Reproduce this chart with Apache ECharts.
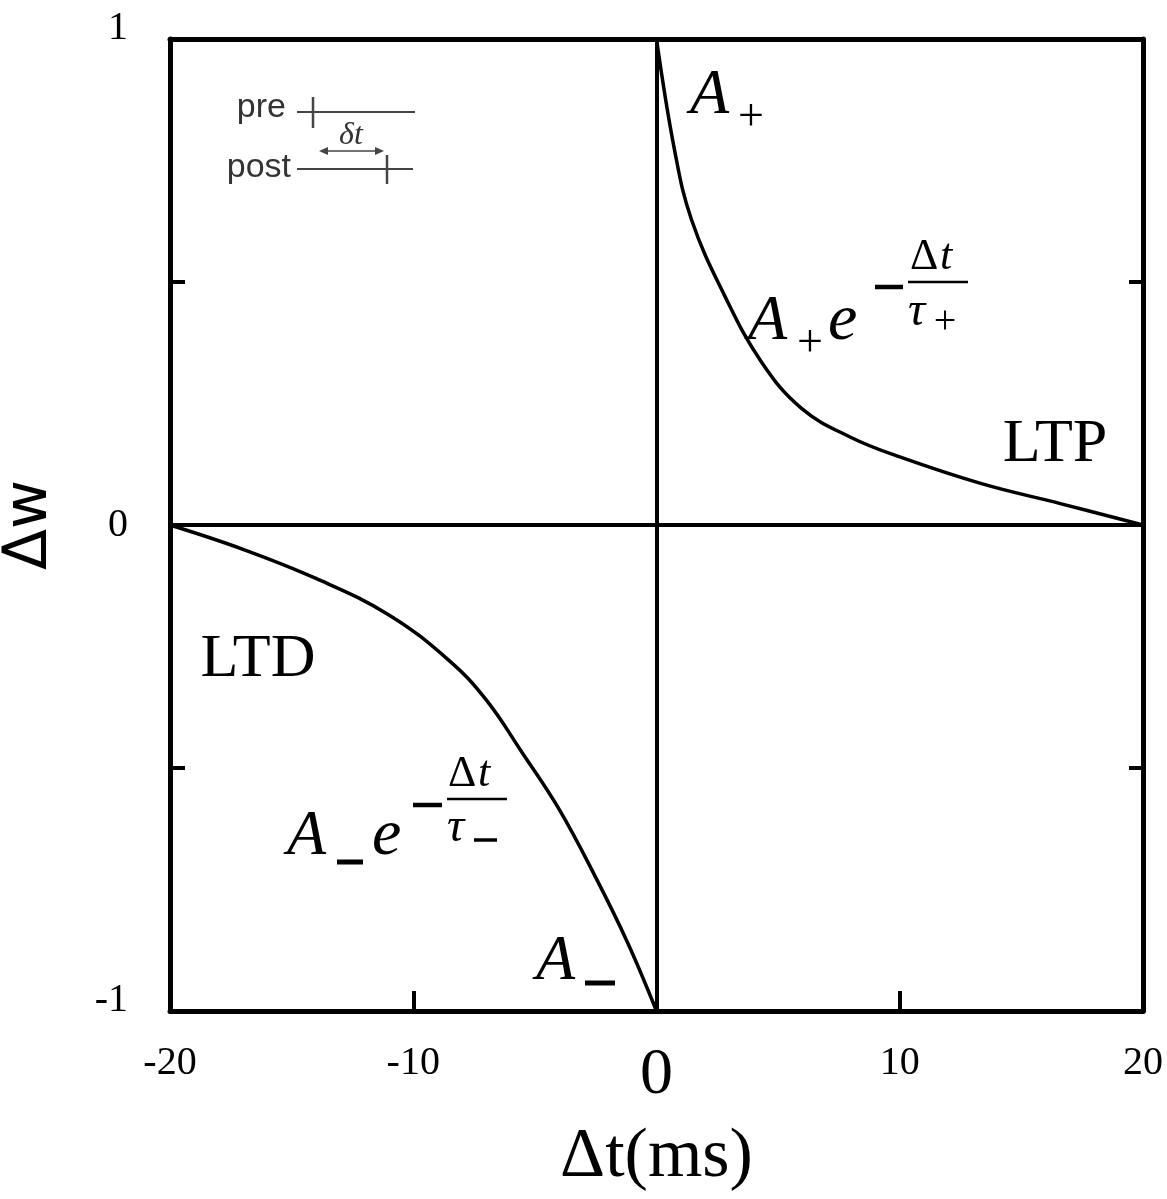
<!DOCTYPE html>
<html>
<head>
<meta charset="utf-8">
<script src="https://cdn.jsdelivr.net/npm/echarts@6/dist/echarts.min.js"></script>
<style>
  html, body { margin: 0; padding: 0; background: #fff; }
  #chart { width: 1167px; height: 1199px; }
</style>
</head>
<body>
<div id="chart"></div>
<script>
// LTP branch (dt > 0)
const ltpT = [0, 0.74, 1.44, 2.79, 4.32, 5.96, 8, 10, 13.36, 16.6, 20]
const ltpW = [1, 0.772, 0.628, 0.473, 0.335, 0.24, 0.18, 0.14, 0.085, 0.044, 0]
// LTD branch (dt < 0)
const ltdT = [-20, -17, -14, -11, -8.5, -7, -5.5, -4, -2.5, -1.2, 0]
const ltdW = [0, -0.05, -0.11, -0.185, -0.28, -0.36, -0.47, -0.585, -0.725, -0.858, -1]

const xTicks = [-20, -10, 0, 10, 20]
const yTicks = [-1, 0, 1]

const serif = '"Liberation Serif", "DejaVu Serif", serif'
const sans = '"DejaVu Sans", "Liberation Sans", sans-serif'

const chart = echarts.init(document.getElementById('chart'))

function txt(text, x, y, font, align, fill) {
  return {
    type: 'text', x: x, y: y, silent: true,
    style: { text: text, font: font, fill: fill || '#000', align: align || 'left', verticalAlign: 'middle' }
  }
}
function seg(x1, y1, x2, y2, w, color) {
  return {
    type: 'line', silent: true,
    shape: { x1: x1, y1: y1, x2: x2, y2: y2 },
    style: { stroke: color || '#000', lineWidth: w }
  }
}

const axisLineStyle = { color: '#000', width: 5 }

const option = {
  animation: false,
  backgroundColor: '#fff',
  grid: { left: 170, right: 24, top: 39, bottom: 188, outerBoundsMode: 'none', containLabel: false },
  xAxis: [
    {
      type: 'value', min: -20, max: 20, interval: 10, position: 'bottom',
      axisLine: { onZero: false, lineStyle: axisLineStyle },
      axisTick: { inside: true, length: 20, customValues: [-10, 10], lineStyle: { color: '#000', width: 4 } },
      axisLabel: {
        customValues: xTicks,
        margin: 32,
        color: '#000',
        fontFamily: serif,
        fontSize: 40,
        formatter: v => (v === 0 ? '{z|0}' : String(v)),
        rich: { z: { fontFamily: serif, fontSize: 66, color: '#000' } }
      },
      splitLine: { show: false },
      name: 'Δt(ms)',
      nameLocation: 'middle',
      nameGap: 112,
      nameTextStyle: { fontFamily: serif, fontSize: 70, color: '#000' }
    },
    {
      type: 'value', min: -20, max: 20, position: 'top',
      axisLine: { onZero: false, lineStyle: axisLineStyle },
      axisTick: { show: false }, axisLabel: { show: false }, splitLine: { show: false }
    }
  ],
  yAxis: [
    {
      type: 'value', min: -1, max: 1, interval: 0.5, position: 'left',
      axisLine: { onZero: false, lineStyle: axisLineStyle },
      axisTick: { inside: true, length: 15, customValues: [-0.5, 0.5], lineStyle: { color: '#000', width: 4 } },
      axisLabel: {
        customValues: yTicks,
        margin: 42,
        color: '#000',
        fontFamily: serif,
        fontSize: 40,
        formatter: v => (v === 0 ? '0' : '{s|' + v + '}'),
        rich: { s: { fontFamily: serif, fontSize: 40, color: '#000', padding: [0, 0, 22, 0] } }
      },
      splitLine: { show: false },
      name: 'Δw',
      nameLocation: 'middle',
      nameGap: 110,
      nameRotate: 90,
      nameTextStyle: { fontFamily: sans, fontSize: 60, color: '#000' }
    },
    {
      type: 'value', min: -1, max: 1, interval: 0.5, position: 'right',
      axisLine: { onZero: false, lineStyle: axisLineStyle },
      axisTick: { inside: true, length: 14, customValues: [-0.5, 0.5], lineStyle: { color: '#000', width: 4 } },
      axisLabel: { show: false }, splitLine: { show: false }
    }
  ],
  series: [
    {
      type: 'line',
      data: ltpT.map((t, i) => [t, ltpW[i]]),
      showSymbol: false,
      smooth: 0.4,
      lineStyle: { color: '#000', width: 3.5 },
      z: 3,
      markLine: {
        silent: true,
        symbol: 'none',
        label: { show: false },
        lineStyle: { color: '#000', width: 4, type: 'solid' },
        data: [{ xAxis: 0 }, { yAxis: 0 }]
      }
    },
    {
      type: 'line',
      data: ltdT.map((t, i) => [t, ltdW[i]]),
      showSymbol: false,
      smooth: 0.4,
      lineStyle: { color: '#000', width: 3.5 },
      z: 3
    }
  ],
  graphic: [
    // inset: spike timing sketch
    txt('pre', 286, 108, '34px "Liberation Sans", sans-serif', 'right', '#333'),
    txt('post', 291, 168, '34px "Liberation Sans", sans-serif', 'right', '#333'),
    seg(297, 112, 415, 112, 2, '#444'),
    seg(313, 97, 313, 128, 2.5, '#444'),
    seg(297, 169, 413, 169, 2, '#444'),
    seg(387, 155, 387, 184, 2.5, '#444'),
    seg(322, 151, 381, 151, 1.5, '#444'),
    { type: 'polygon', silent: true, shape: { points: [[319, 151], [328, 147], [328, 155]] }, style: { fill: '#444' } },
    { type: 'polygon', silent: true, shape: { points: [[384, 151], [375, 147], [375, 155]] }, style: { fill: '#444' } },
    txt('δt', 351, 136, 'italic 32px ' + serif, 'center', '#333'),

    // A+ near the top
    txt('A', 690, 96, 'italic 64px ' + serif, 'left'),
    txt('+', 751, 118, '46px ' + serif, 'center'),

    // A+ e^{-dt/tau+}
    txt('A', 748, 322, 'italic 64px ' + serif, 'left'),
    txt('+', 810, 344, '46px ' + serif, 'center'),
    txt('e', 828, 322, 'italic 66px ' + serif, 'left'),
    seg(875, 287, 903, 287, 4.5),
    txt('Δ', 910, 257, '44px ' + serif, 'left'),
    txt('t', 940, 257, 'italic 44px ' + serif, 'left'),
    seg(908, 282, 968, 282, 2.5),
    txt('τ', 908, 312, 'italic 48px ' + serif, 'left'),
    txt('+', 945, 322, '40px ' + serif, 'center'),

    // LTP / LTD
    txt('LTP', 1055, 445, '62px ' + serif, 'center'),
    txt('LTD', 258, 660, '62px ' + serif, 'center'),

    // A- e^{-dt/tau-}
    txt('A', 287, 837, 'italic 64px ' + serif, 'left'),
    seg(337, 862, 363, 862, 5),
    txt('e', 372, 837, 'italic 66px ' + serif, 'left'),
    seg(413, 805, 442, 805, 4.5),
    txt('Δ', 448, 774, '44px ' + serif, 'left'),
    txt('t', 478, 774, 'italic 44px ' + serif, 'left'),
    seg(447, 799, 507, 799, 2.5),
    txt('τ', 447, 828, 'italic 48px ' + serif, 'left'),
    seg(474, 840, 497, 840, 3.5),

    // A- near the bottom
    txt('A', 536, 962, 'italic 64px ' + serif, 'left'),
    seg(585, 983, 615, 983, 5)
  ]
}

chart.setOption(option)
</script>
</body>
</html>
